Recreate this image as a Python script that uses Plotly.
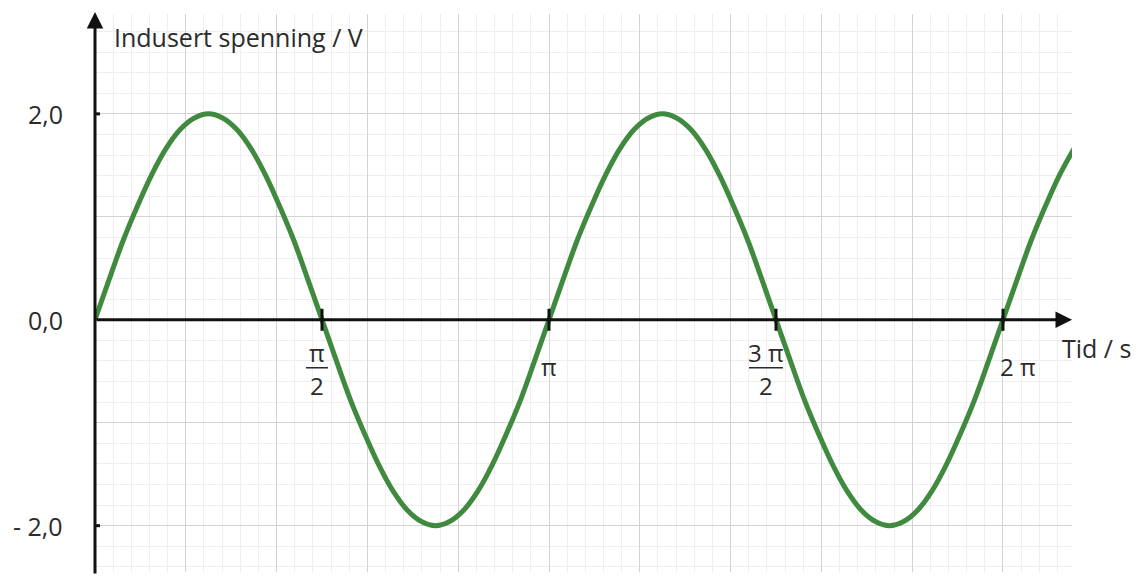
import plotly.graph_objects as go

# time in units of pi (s), induced voltage (V)
tid_pi = [0, 0.031, 0.062, 0.094, 0.125, 0.156, 0.188, 0.219,
          0.25, 0.281, 0.312, 0.344, 0.375, 0.406, 0.438, 0.469,
          0.5, 0.531, 0.562, 0.594, 0.625, 0.656, 0.688, 0.719,
          0.75, 0.781, 0.812, 0.844, 0.875, 0.906, 0.938, 0.969,
          1.0, 1.031, 1.062, 1.094, 1.125, 1.156, 1.188, 1.219,
          1.25, 1.281, 1.312, 1.344, 1.375, 1.406, 1.438, 1.469,
          1.5, 1.531, 1.562, 1.594, 1.625, 1.656, 1.688, 1.719,
          1.75, 1.781, 1.812, 1.844, 1.875, 1.906, 1.938, 1.969,
          2.0, 2.031, 2.062, 2.094, 2.125, 2.156]
spenning = [0, 0.39, 0.77, 1.11, 1.41, 1.66, 1.85, 1.96,
            2.0, 1.96, 1.85, 1.66, 1.41, 1.11, 0.77, 0.39,
            0, -0.39, -0.77, -1.11, -1.41, -1.66, -1.85, -1.96,
            -2.0, -1.96, -1.85, -1.66, -1.41, -1.11, -0.77, -0.39,
            0, 0.39, 0.77, 1.11, 1.41, 1.66, 1.85, 1.96,
            2.0, 1.96, 1.85, 1.66, 1.41, 1.11, 0.77, 0.39,
            0, -0.39, -0.77, -1.11, -1.41, -1.66, -1.85, -1.96,
            -2.0, -1.96, -1.85, -1.66, -1.41, -1.11, -0.77, -0.39,
            0, 0.39, 0.77, 1.11, 1.41, 1.66]

x_ticks = [0.5, 1.0, 1.5, 2.0]
x_num = ["π", "π", "3 π", "2 π"]
x_den = ["2", "", "2", ""]
y_ticks = [2.0, 0.0, -2.0]
y_labels = ["2,0", "0,0", "- 2,0"]

FONT = "Open Sans"
TXT = "#2b2b2b"
x_max, y_min, y_max = 2.152, -2.45, 2.97

fig = go.Figure()
fig.add_trace(go.Scatter(x=tid_pi, y=spenning, mode="lines",
                         line=dict(color="#3f8a3f", width=5, shape="spline"),
                         hoverinfo="skip"))

# axes with arrows
fig.add_annotation(x=x_max, y=0, ax=0, ay=0, xref="x", yref="y", axref="x", ayref="y",
                   showarrow=True, arrowhead=2, arrowsize=1.1, arrowwidth=3, arrowcolor="#111", text="")
fig.add_annotation(x=0, y=1.0036, xref="x", yref="paper", ax=0, ay=563, axref="pixel", ayref="pixel",
                   showarrow=True, arrowhead=2, arrowsize=1.1, arrowwidth=3, arrowcolor="#111", text="")

shapes = []
for xv in x_ticks:
    shapes.append(dict(type="line", xref="x", yref="y", ysizemode="pixel", yanchor=0,
                       x0=xv, x1=xv, y0=-11, y1=11, line=dict(color="#111", width=3)))
for yv in [2.0, -2.0]:
    shapes.append(dict(type="line", xref="x", yref="y", xsizemode="pixel", xanchor=0,
                       x0=-12, x1=5, y0=yv, y1=yv, line=dict(color="#111", width=3)))

# x tick labels (fractions)
for xv, num, den in zip(x_ticks, x_num, x_den):
    if den:
        dx = -5 if len(num) == 1 else -10
        w = 11 if len(num) == 1 else 17
        fig.add_annotation(x=xv, y=0, xref="x", yref="y", text=num, showarrow=False,
                           xshift=dx, yshift=-33, font=dict(family=FONT, size=24, color=TXT))
        fig.add_annotation(x=xv, y=0, xref="x", yref="y", text=den, showarrow=False,
                           xshift=dx, yshift=-66, font=dict(family=FONT, size=24, color=TXT))
        shapes.append(dict(type="line", xref="x", yref="y", xsizemode="pixel", ysizemode="pixel",
                           xanchor=xv, yanchor=0, x0=dx - w, x1=dx + w, y0=-48, y1=-48,
                           line=dict(color=TXT, width=1.5)))
    else:
        shift = 0 if num == "π" else 15
        fig.add_annotation(x=xv, y=0, xref="x", yref="y", text=num, showarrow=False,
                           xshift=shift, yshift=-47, font=dict(family=FONT, size=24, color=TXT))

for yv, lab in zip(y_ticks, y_labels):
    fig.add_annotation(x=0, y=yv, xref="x", yref="y", text=lab, showarrow=False,
                       xanchor="right", xshift=-30, font=dict(family=FONT, size=25, color=TXT))

fig.add_annotation(x=0, y=1.0, xref="x", yref="paper", text="Indusert spenning / V", showarrow=False,
                   xanchor="left", yanchor="middle", xshift=17, yshift=-23,
                   font=dict(family=FONT, size=25, color=TXT))
fig.add_annotation(x=x_max, y=0, xref="x", yref="y", text="Tid / s", showarrow=False,
                   xanchor="left", xshift=-12, yshift=-28,
                   font=dict(family=FONT, size=25, color=TXT))

# the page body adds 8 px, so the figure is a little smaller than the window
fig.update_layout(
    width=1135, height=578,
    margin=dict(l=87, r=71, t=6, b=14),
    paper_bgcolor="white", plot_bgcolor="white",
    showlegend=False, shapes=shapes,
    xaxis=dict(range=[0, x_max], dtick=0.2, tick0=0, showticklabels=False, ticks="",
               showgrid=True, gridcolor="#d3d3d3", gridwidth=1.2, zeroline=False, showline=False,
               minor=dict(dtick=0.04, showgrid=True, gridcolor="#eeeef0", gridwidth=1)),
    yaxis=dict(range=[y_min, y_max], dtick=1, tick0=0, showticklabels=False, ticks="",
               showgrid=True, gridcolor="#d3d3d3", gridwidth=1.2, zeroline=False, showline=False,
               minor=dict(dtick=0.2, showgrid=True, gridcolor="#eeeef0", gridwidth=1)),
)

fig.write_html("out.html")
